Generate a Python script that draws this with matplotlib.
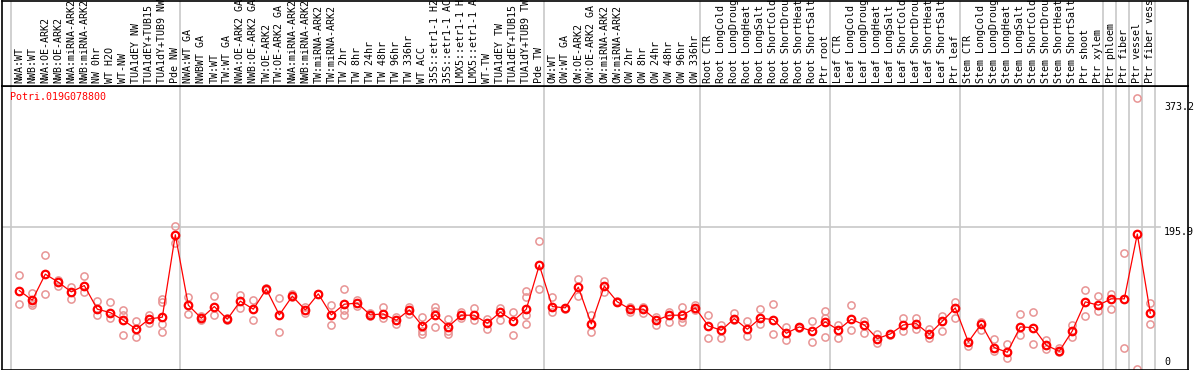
import numpy as np
import matplotlib
matplotlib.use('Agg')
import matplotlib.pyplot as plt

# sample names, in plotted order
samples = [
    'NWA:WT', 'NWB:WT', 'NWA:OE-ARK2', 'NWB:OE-ARK2', 'NWA:miRNA-ARK2', 'NWB:miRNA-ARK2',
    'NW 0hr', 'WT H2O', 'WT-NW', 'TUA1dEY NW', 'TUA1dEY+TUB15 NW', 'TUA1dY+TUB9 NW', 'Pde NW',
    'NWA:WT GA', 'NWBWT GA', 'TW:WT', 'TW:WT GA', 'NWA:OE-ARK2 GA', 'NWB:OE-ARK2 GA',
    'TW:OE-ARK2', 'TW:OE-ARK2 GA', 'NWA:miRNA-ARK2', 'NWB:miRNA-ARK2', 'TW:miRNA-ARK2',
    'TW:miRNA-ARK2', 'TW 2hr', 'TW 8hr', 'TW 24hr', 'TW 48hr', 'TW 96hr', 'TW 336hr', 'WT ACC',
    '35S::etr1-1 H2O', '35S::etr1-1 ACC', 'LMX5::etr1-1 H2O', 'LMX5::etr1-1 ACC', 'WT-TW',
    'TUA1dEY TW', 'TUA1dEY+TUB15 TW', 'TUA1dY+TUB9 TW', 'Pde TW',
    'OW:WT', 'OW:WT GA', 'OW:OE-ARK2', 'OW:OE-ARK2 GA', 'OW:miRNA-ARK2', 'OW:miRNA-ARK2',
    'OW 2hr', 'OW 8hr', 'OW 24hr', 'OW 48hr', 'OW 96hr', 'OW 336hr',
    'Root CTR', 'Root LongCold', 'Root LongDrought', 'Root LongHeat', 'Root LongSalt',
    'Root ShortCold', 'Root ShortDrought', 'Root ShortHeat', 'Root ShortSalt', 'Ptr root',
    'Leaf CTR', 'Leaf LongCold', 'Leaf LongDrought', 'Leaf LongHeat', 'Leaf LongSalt',
    'Leaf ShortCold', 'Leaf ShortDrought', 'Leaf ShortHeat', 'Leaf ShortSalt', 'Ptr leaf',
    'Stem CTR', 'Stem LongCold', 'Stem LongDrought', 'Stem LongHeat', 'Stem LongSalt',
    'Stem ShortCold', 'Stem ShortDrought', 'Stem ShortHeat', 'Stem ShortSalt', 'Ptr shoot',
    'Ptr xylem', 'Ptr phloem', 'Ptr fiber', 'Ptr vessel', 'Ptr fiber vessel',
]
group_sizes = [13, 28, 12, 10, 10, 11, 1, 1, 1, 1]

means = [
    108.6, 95.4, 131.2, 120.2, 106.8, 115.5, 83.0, 78.3, 67.8, 55.4, 69.6, 72.0, 185.4,
    88.5, 70.6, 86.6, 69.2, 94.0, 83.0, 110.6, 75.1, 100.9, 82.0, 104.1, 75.1, 89.9, 91.3,
    75.1, 76.5, 67.8, 82.0, 60.0, 75.1, 59.0, 74.7, 74.7, 63.7, 78.9, 66.9, 83.0, 143.6,
    86.6, 84.8, 113.3, 62.7, 114.7, 93.1, 83.0, 83.0, 67.8, 74.7, 74.7, 84.8,
    60.0, 54.0, 70.0, 55.4, 70.6, 68.7, 49.9, 58.6, 52.7, 65.5,
    54.5, 69.2, 61.3, 42.5, 48.9, 61.3, 63.1, 48.5, 66.4, 84.8,
    37.9, 62.7, 30.1, 23.7, 58.6, 57.6, 33.4, 25.1, 53.1, 93.1, 88.5,
    97.2, 97.2, 186.4, 77.5,
]

reps = [
    [129.9, 89.9], [105.1, 88.5, 91.3], [157.4, 103.7], [115.1, 123.4], [113.3, 96.8],
    [128.5, 106.4], [94.0, 74.7], [93.1, 70.6], [82.0, 47.6, 75.1], [66.9, 44.4],
    [75.1, 64.5], [96.8, 93.5, 62.7, 52.1], [197.4, 174.0],
    [99.9, 76.1], [74.2, 68.2], [100.9, 74.7], [71.0, 68.2], [102.3, 84.8], [95.4, 68.7],
    [111.9, 109.6], [98.6, 51.3], [104.5, 99.5], [86.6, 77.5], [104.1, 104.1], [88.5, 60.9],
    [110.6, 82.0, 75.1], [95.8, 88.0], [77.5, 73.8], [86.2, 71.0], [72.8, 62.3], [86.2, 76.1],
    [72.4, 53.5, 48.9], [86.6, 81.1, 58.2], [69.2, 53.1, 48.9], [79.3, 70.6], [84.8, 68.7],
    [70.0, 56.2], [85.2, 67.8], [78.9, 47.6], [108.2, 99.5, 75.1, 62.3], [177.2, 111.0],
    [99.5, 79.7], [84.8, 83.0], [124.4, 101.7], [75.1, 51.3], [122.0, 107.3], [93.1, 94.4],
    [86.6, 79.7], [77.5, 86.6], [72.8, 61.3], [78.9, 65.1], [85.7, 65.1, 70.6], [89.3, 82.0],
    [75.1, 43.0], [61.8, 43.0], [77.9, 68.2], [66.9, 45.8], [83.4, 62.7], [89.9, 48.5],
    [59.0, 41.1], [59.0, 56.8], [66.9, 38.3], [80.6, 71.0, 44.4],
    [60.9, 43.8], [88.5, 54.5], [67.3, 50.7], [48.9, 36.9], [48.9, 47.6], [71.4, 53.5],
    [71.4, 55.8], [55.4, 43.4], [73.3, 53.1], [93.1, 71.0],
    [32.8, 37.9], [65.9, 54.0], [42.0, 25.9], [35.2, 15.4], [76.1, 48.0], [78.9, 35.2],
    [40.7, 28.7], [29.2, 24.5], [61.3, 45.2], [109.2, 73.3], [100.9, 80.6],
    [104.1, 83.8], [160.2, 29.2], [373.2, 0.5], [91.3, 62.3],
]

gene = 'Potri.019G078800'
ref_values = [373.2, 195.9, 0]

W, H = 1194, 370
fig = plt.figure(figsize=(W / 100, H / 100), dpi=100)


def box(x0, y0, x1, y1):
    return [x0 / W, 1 - y1 / H, (x1 - x0) / W, (y1 - y0) / H]


ax = fig.add_axes(box(1.5, 85.7, 1188, 369.5))
hd = fig.add_axes(box(1.5, 0.5, 1188, 85.7), sharex=ax)

x = np.arange(len(samples)) + 0.66
bounds = np.concatenate([[0], np.cumsum(group_sizes)])

ax.set_xlim(-0.71, 90.56)
ax.set_ylim(0, 390.5)
hd.set_ylim(0, 1)

for a in (ax, hd):
    for b in bounds:
        a.axvline(b, color='#c8c8c8', lw=1.2, zorder=0)
    for s in a.spines.values():
        s.set_color('black')
        s.set_linewidth(1.2)
    a.tick_params(left=False, bottom=False, labelleft=False, labelbottom=False)

ax.axhline(195.9, xmax=0.976, color='#c8c8c8', lw=1.2, zorder=0)

# replicates
for xi, r in zip(x, reps):
    ax.plot([xi] * len(r), r, 'o', ms=5.2, mfc='none', mec='#e89494', mew=1.1,
            clip_on=False, zorder=2)

ax.plot(x, means, '-', color='#ff0000', lw=0.9, zorder=3)
ax.plot(x, means, 'o', ms=5.4, mfc='none', mec='#ff0000', mew=1.6, zorder=4)

for xi, name in zip(x, samples):
    hd.annotate(name, (xi, 0), xytext=(0, 2), textcoords='offset points',
                rotation=90, ha='center', va='bottom', fontsize=7.2,
                family='DejaVu Sans Mono', annotation_clip=False)

ax.text(8.5 / 1186.5, 1 - 11.5 / 283.8, gene, transform=ax.transAxes, color='#ff0000',
        fontsize=7.2, family='DejaVu Sans Mono', ha='left', va='center')

offsets = {373.2: -6.3, 195.9: -3.5, 0: 5.6}
for v in ref_values:
    ax.annotate(f'{v:g}', (88.5, v), xytext=(2, offsets[v]), textcoords='offset points',
                ha='left', va='center', fontsize=7.2, family='DejaVu Sans Mono')

fig.savefig('out.png', dpi=100)
